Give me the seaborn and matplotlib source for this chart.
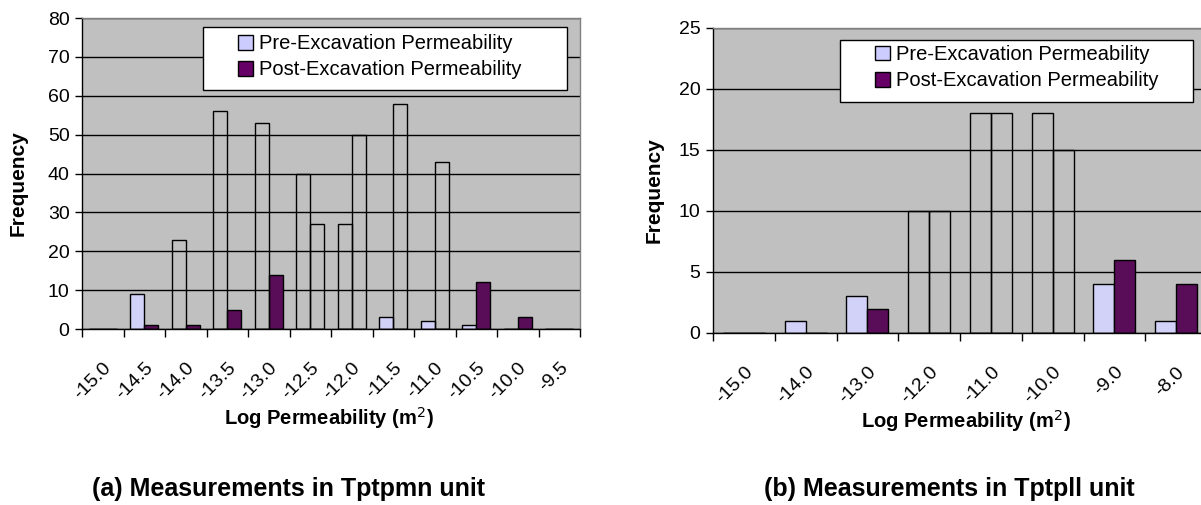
import numpy as np
import pandas as pd
import matplotlib
matplotlib.use("Agg")
import matplotlib.pyplot as plt
import matplotlib.transforms as mtransforms
from matplotlib.patches import Patch, Rectangle
import seaborn as sns

# Panel (a): Tptpmn unit
bins_a = ["-15.0", "-14.5", "-14.0", "-13.5", "-13.0", "-12.5",
          "-12.0", "-11.5", "-11.0", "-10.5", "-10.0", "-9.5"]
pre_a = [0, 9, 0, 0, 0, 0, 0, 3, 2, 1, 0, 0]
post_a = [0, 1, 1, 5, 14, 0, 0, 0, 0, 12, 3, 0]
# outline-only bars (first / second slot of each bin)
open1_a = [0, 0, 23, 56, 53, 40, 27, 0, 0, 0, 0, 0]
open2_a = [0, 0, 0, 0, 0, 27, 50, 58, 43, 0, 0, 0]

# Panel (b): Tptpll unit
bins_b = ["-15.0", "-14.0", "-13.0", "-12.0", "-11.0", "-10.0", "-9.0", "-8.0"]
pre_b = [0, 1, 3, 0, 0, 0, 4, 1]
post_b = [0, 0, 2, 0, 0, 0, 6, 4]
open1_b = [0, 0, 0, 10, 18, 18, 0, 0]
open2_b = [0, 0, 0, 10, 18, 15, 0, 0]

series = ["Pre-Excavation Permeability", "Post-Excavation Permeability"]
colors = ["#CCCCFF", "#660066"]
font = "Liberation Sans"

sns.set_theme(style="white")
plt.rcParams["font.family"] = [font, "DejaVu Sans"]
for key in ["text.color", "axes.labelcolor", "xtick.color", "ytick.color"]:
    plt.rcParams[key] = "black"


def long_df(bins, first, second):
    return pd.DataFrame({
        "bin": bins * 2,
        "series": [series[0]] * len(bins) + [series[1]] * len(bins),
        "value": list(first) + list(second),
    })


def draw_panel(fig, ax, bins, pre, post, open1, open2, ymax, ystep,
               leg_box, leg_anchor, ylab_x, xlab_x):
    ax.set_facecolor("#C0C0C0")
    ax.set_axisbelow(True)
    ax.yaxis.grid(True, color="black", linewidth=1.0)

    sns.barplot(data=long_df(bins, pre, post), x="bin", y="value", hue="series",
                hue_order=series, order=bins, palette=colors, width=0.68,
                edgecolor="black", linewidth=1.0, legend=False, ax=ax)
    sns.barplot(data=long_df(bins, open1, open2), x="bin", y="value", hue="series",
                hue_order=series, order=bins, palette=["black", "black"], width=0.68,
                fill=False, linewidth=1.0, legend=False, ax=ax)

    n = len(bins)
    ax.set_xlim(-0.5, n - 0.5)
    ax.set_ylim(0, ymax)
    ax.set_yticks(np.arange(0, ymax + 1, ystep))
    ax.set_xticks(np.arange(-0.5, n, 1.0), minor=True)
    ax.set_xticks(np.arange(n))
    ax.set_xticklabels(bins, rotation=45, ha="right", rotation_mode="anchor")
    shift = mtransforms.ScaledTranslation(-0.08, 0, fig.dpi_scale_trans)
    for lab in ax.get_xticklabels():
        lab.set_transform(lab.get_transform() + shift)
    ax.tick_params(axis="x", which="major", length=0, pad=22, labelsize=14)
    ax.tick_params(axis="x", which="minor", length=6, width=1, color="black", direction="out", bottom=True)
    ax.tick_params(axis="y", length=5, width=1, color="black", direction="out", left=True, labelsize=14, pad=4)

    for side in ["left", "bottom"]:
        ax.spines[side].set_color("black")
        ax.spines[side].set_linewidth(1.0)
    for side in ["top", "right"]:
        ax.spines[side].set_color("#808080")
        ax.spines[side].set_linewidth(1.0)

    ax.set_ylabel("Frequency", fontsize=15, fontweight="bold")
    ax.yaxis.set_label_coords(ylab_x, 0.47)
    ax.set_xlabel("Log Permeability (m$^2$)", fontsize=14.5, fontweight="bold")
    ax.xaxis.set_label_coords(xlab_x, -0.245)

    # legend box drawn separately, Excel-style wide padding
    x0, y0, x1, y1 = leg_box
    ax.add_patch(Rectangle((x0, y0), x1 - x0, y1 - y0, transform=ax.transAxes,
                           facecolor="white", edgecolor="black", linewidth=1.0, zorder=5))
    handles = [Patch(facecolor=c, edgecolor="black", linewidth=1.0) for c in colors]
    leg = ax.legend(handles, series, loc="center left", bbox_to_anchor=leg_anchor,
                    borderaxespad=0, borderpad=0, fontsize=14.5, frameon=False,
                    handlelength=0.75, handleheight=0.75, handletextpad=0.3,
                    labelspacing=0.35)
    leg.set_zorder(6)


fig = plt.figure(figsize=(12.01, 5.05), dpi=100)
ax_a = fig.add_axes([0.0683, 0.3485, 0.4147, 0.6158])
ax_b = fig.add_axes([0.5937, 0.3406, 0.4113, 0.6040])

draw_panel(fig, ax_a, bins_a, pre_a, post_a, open1_a, open2_a, 80, 10,
           (0.243, 0.768, 0.974, 0.971), (0.313, 0.875), -0.11, 0.496)
draw_panel(fig, ax_b, bins_b, pre_b, post_b, open1_b, open2_b, 25, 5,
           (0.257, 0.757, 0.972, 0.961), (0.328, 0.870), -0.101, 0.512)

fig.text(288 / 1201, 1 - 489 / 505, "(a) Measurements in Tptpmn unit",
         ha="center", va="center", fontsize=18, fontweight="bold")
fig.text(949 / 1201, 1 - 489 / 505, "(b) Measurements in Tptpll unit",
         ha="center", va="center", fontsize=18, fontweight="bold")

fig.savefig("out.png", dpi=100)
